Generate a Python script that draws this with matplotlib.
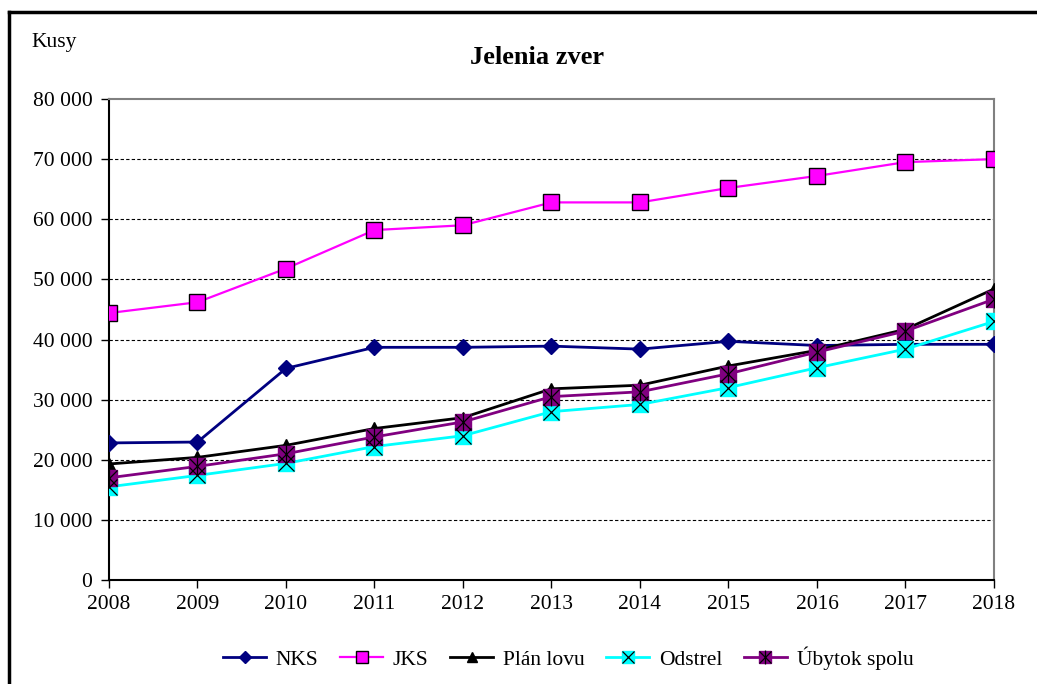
import matplotlib
matplotlib.use('Agg')
import matplotlib.pyplot as plt
from matplotlib.lines import Line2D
from matplotlib.legend_handler import HandlerTuple
from matplotlib.ticker import FuncFormatter

plt.rcParams['font.family'] = ['Liberation Serif', 'DejaVu Serif']

years = [2008, 2009, 2010, 2011, 2012, 2013, 2014, 2015, 2016, 2017, 2018]
nks = [22800, 22950, 35200, 38700, 38700, 38900, 38400, 39700, 39000, 39200, 39200]
jks = [44400, 46200, 51800, 58200, 59000, 62800, 62800, 65200, 67200, 69500, 70000]
plan_lovu = [19300, 20400, 22400, 25200, 27000, 31800, 32400, 35600, 38200, 41700, 48400]
odstrel = [15500, 17400, 19400, 22200, 24000, 28000, 29200, 32000, 35300, 38400, 43000]
ubytok = [17000, 18900, 21000, 23800, 26300, 30500, 31300, 34300, 37900, 41400, 46700]

fig = plt.figure(figsize=(10.37, 6.84), dpi=100)
ax = fig.add_axes([0.1051, 0.152, 0.8534, 0.7033])

l_nks, = ax.plot(years, nks, color='#000080', lw=2, marker='D', ms=8,
                 mfc='#000080', mec='#000080', zorder=3)
l_jks, = ax.plot(years, jks, color='#FF00FF', lw=1.6, marker='s', ms=11,
                 mfc='#FF00FF', mec='#000000', mew=1, zorder=3)
l_plan, = ax.plot(years, plan_lovu, color='#000000', lw=2, marker='^', ms=9,
                  mfc='#000000', mec='#000000', zorder=3)
l_ods, = ax.plot(years, odstrel, color='#00FFFF', lw=2, marker='s', ms=11,
                 mfc='#00FFFF', mec='#00FFFF', zorder=3)
x_ods, = ax.plot(years, odstrel, ls='none', marker='x', ms=11, mec='#000000',
                 mew=0.9, zorder=4)
l_uby, = ax.plot(years, ubytok, color='#800080', lw=2, marker='s', ms=11,
                 mfc='#800080', mec='#800080', zorder=3)
x_uby, = ax.plot(years, ubytok, ls='none', marker='x', ms=11, mec='#000000',
                 mew=0.9, zorder=4)
v_uby, = ax.plot(years, ubytok, ls='none', marker='|', ms=13, mec='#000000',
                 mew=0.9, zorder=4)

ax.set_xlim(2008, 2018)
ax.set_ylim(0, 80000)
ax.set_xticks(years)
ax.set_yticks(range(0, 80001, 10000))
ax.yaxis.set_major_formatter(FuncFormatter(lambda v, p: f'{int(v):,}'.replace(',', ' ')))
ax.tick_params(axis='both', labelsize=15.5, direction='out', length=6, width=1, colors='#000000')
ax.tick_params(axis='x', pad=5)
ax.tick_params(axis='y', pad=6)
for y in range(10000, 80000, 10000):
    ax.axhline(y, color='#000000', lw=0.8, ls=(0, (3, 2)), zorder=1)

ax.spines['left'].set_color('#000000')
ax.spines['bottom'].set_color('#000000')
ax.spines['top'].set_color('#808080')
ax.spines['right'].set_color('#808080')
for s in ax.spines.values():
    s.set_linewidth(1.5)

fig.text(0.518, 0.916, 'Jelenia zver', ha='center', va='center',
         fontsize=19, fontweight='bold')
fig.text(0.03, 0.938, 'Kusy', ha='left', va='center', fontsize=15.5)

handles = [l_nks, l_jks, l_plan, (l_ods, x_ods), (l_uby, x_uby, v_uby)]
labels = ['NKS', 'JKS', 'Plán lovu', 'Odstrel', 'Úbytok spolu']
fig.legend(handles, labels, loc='center', bbox_to_anchor=(0.548, 0.038),
           ncol=5, frameon=False, fontsize=15.5, handlelength=2.0,
           handletextpad=0.45, columnspacing=1.0, markerscale=0.75,
           handler_map={tuple: HandlerTuple(ndivide=1)})

# outer chart border (left and top edges visible)
fig.add_artist(Line2D([0.009, 0.009], [0, 0.983], color='#000000', lw=2.5))
fig.add_artist(Line2D([0.009, 1.0], [0.983, 0.983], color='#000000', lw=2.5))

fig.savefig('out.png', dpi=100)
